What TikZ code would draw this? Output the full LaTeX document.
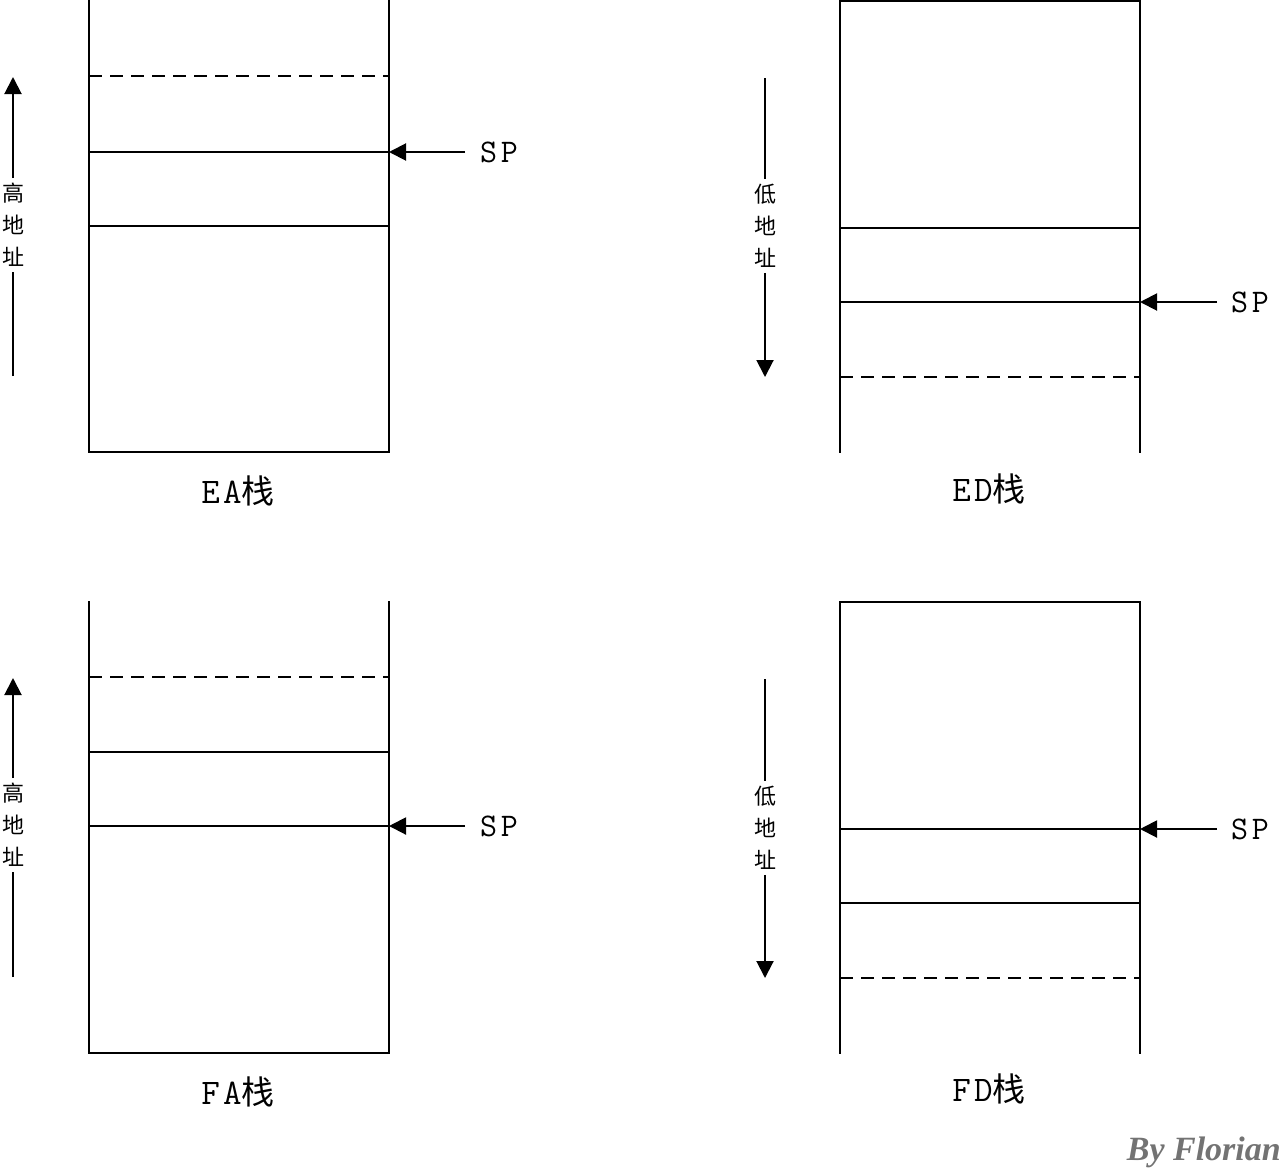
\documentclass[tikz,border=0pt]{standalone}
\usepackage{fontspec}
\usetikzlibrary{arrows.meta}
\newfontfamily\cjk{Noto Sans CJK SC}
\newfontfamily\latlab[LetterSpace=9]{Latin Modern Mono}
\newfontfamily\latsp[LetterSpace=11]{Latin Modern Mono}
\newfontfamily\sig{Liberation Serif}
\tikzset{
  wall/.style={line width=2pt, line cap=rect},
  cell/.style={line width=2pt},
  dash cell/.style={line width=2pt, dash pattern=on 13pt off 8pt},
  ptr/.style={line width=2pt, -{Triangle[length=17pt,width=17pt]}},
  plain/.style={line width=2pt},
  vtext/.style={align=center, inner xsep=0pt, inner ysep=5pt, font=\cjk\fontsize{22}{32}\selectfont},
  splabel/.style={anchor=base west, inner sep=0pt, font=\latsp\fontsize{33}{36}\selectfont},
  caption/.style={anchor=base, inner sep=0pt},
}
\newcommand{\stackcap}[2]{{\latlab\fontsize{36}{40}\selectfont #1}{\cjk\fontsize{33}{40}\selectfont #2}}
\begin{document}
\begin{tikzpicture}[x=1pt,y=-1pt]
\useasboundingbox (0,0) rectangle (1281,1170);

% ================= EA stack =================
\draw[wall] (89,0) -- (89,452) -- (389,452) -- (389,0);
\draw[dash cell] (89,76) -- (389,76);
\draw[cell] (89,152) -- (389,152);
\draw[cell] (89,226) -- (389,226);
\coordinate (eaSPtip) at (389,152);
\coordinate (eaSPtail) at (465,152);
\draw[ptr] (eaSPtail) -- (eaSPtip);
\node[splabel] (eaSP) at (480,162) {SP};
\node[vtext] (eaT) at (13,225) {高\\地\\址};
\coordinate (eaTip) at (13,77);
\coordinate (eaBot) at (13,376);
\draw[ptr] (eaT.north) -- (eaTip);
\draw[plain] (eaBot) -- (eaT.south);
\node[caption] (eaCap) at (238,503) {\stackcap{EA}{栈}};

% ================= ED stack =================
\draw[wall] (840,452) -- (840,1) -- (1140,1) -- (1140,452);
\draw[cell] (840,228) -- (1140,228);
\draw[cell] (840,302) -- (1140,302);
\draw[dash cell] (840,377) -- (1140,377);
\coordinate (edSPtip) at (1140,302);
\coordinate (edSPtail) at (1217,302);
\draw[ptr] (edSPtail) -- (edSPtip);
\node[splabel] (edSP) at (1231,312) {SP};
\node[vtext] (edT) at (765,226) {低\\地\\址};
\coordinate (edTop) at (765,78);
\coordinate (edTip) at (765,377);
\draw[plain] (edTop) -- (edT.north);
\draw[ptr] (edT.south) -- (edTip);
\node[caption] (edCap) at (989,501) {\stackcap{ED}{栈}};

% ================= FA stack =================
\draw[wall] (89,602) -- (89,1053) -- (389,1053) -- (389,602);
\draw[dash cell] (89,677) -- (389,677);
\draw[cell] (89,752) -- (389,752);
\draw[cell] (89,826) -- (389,826);
\coordinate (faSPtip) at (389,826);
\coordinate (faSPtail) at (465,826);
\draw[ptr] (faSPtail) -- (faSPtip);
\node[splabel] (faSP) at (480,836) {SP};
\node[vtext] (faT) at (13,825) {高\\地\\址};
\coordinate (faTip) at (13,678);
\coordinate (faBot) at (13,977);
\draw[ptr] (faT.north) -- (faTip);
\draw[plain] (faBot) -- (faT.south);
\node[caption] (faCap) at (238,1104) {\stackcap{FA}{栈}};

% ================= FD stack =================
\draw[wall] (840,1053) -- (840,602) -- (1140,602) -- (1140,1053);
\draw[cell] (840,829) -- (1140,829);
\draw[cell] (840,903) -- (1140,903);
\draw[dash cell] (840,978) -- (1140,978);
\coordinate (fdSPtip) at (1140,829);
\coordinate (fdSPtail) at (1217,829);
\draw[ptr] (fdSPtail) -- (fdSPtip);
\node[splabel] (fdSP) at (1231,839) {SP};
\node[vtext] (fdT) at (765,828) {低\\地\\址};
\coordinate (fdTop) at (765,679);
\coordinate (fdTip) at (765,978);
\draw[plain] (fdTop) -- (fdT.north);
\draw[ptr] (fdT.south) -- (fdTip);
\node[caption] (fdCap) at (989,1101) {\stackcap{FD}{栈}};

% signature
\node[anchor=base east, inner sep=0pt, text=black!55,
      font=\sig\bfseries\itshape\fontsize{34}{36}\selectfont] (sign) at (1281,1160) {By Florian};
\end{tikzpicture}
\end{document}
